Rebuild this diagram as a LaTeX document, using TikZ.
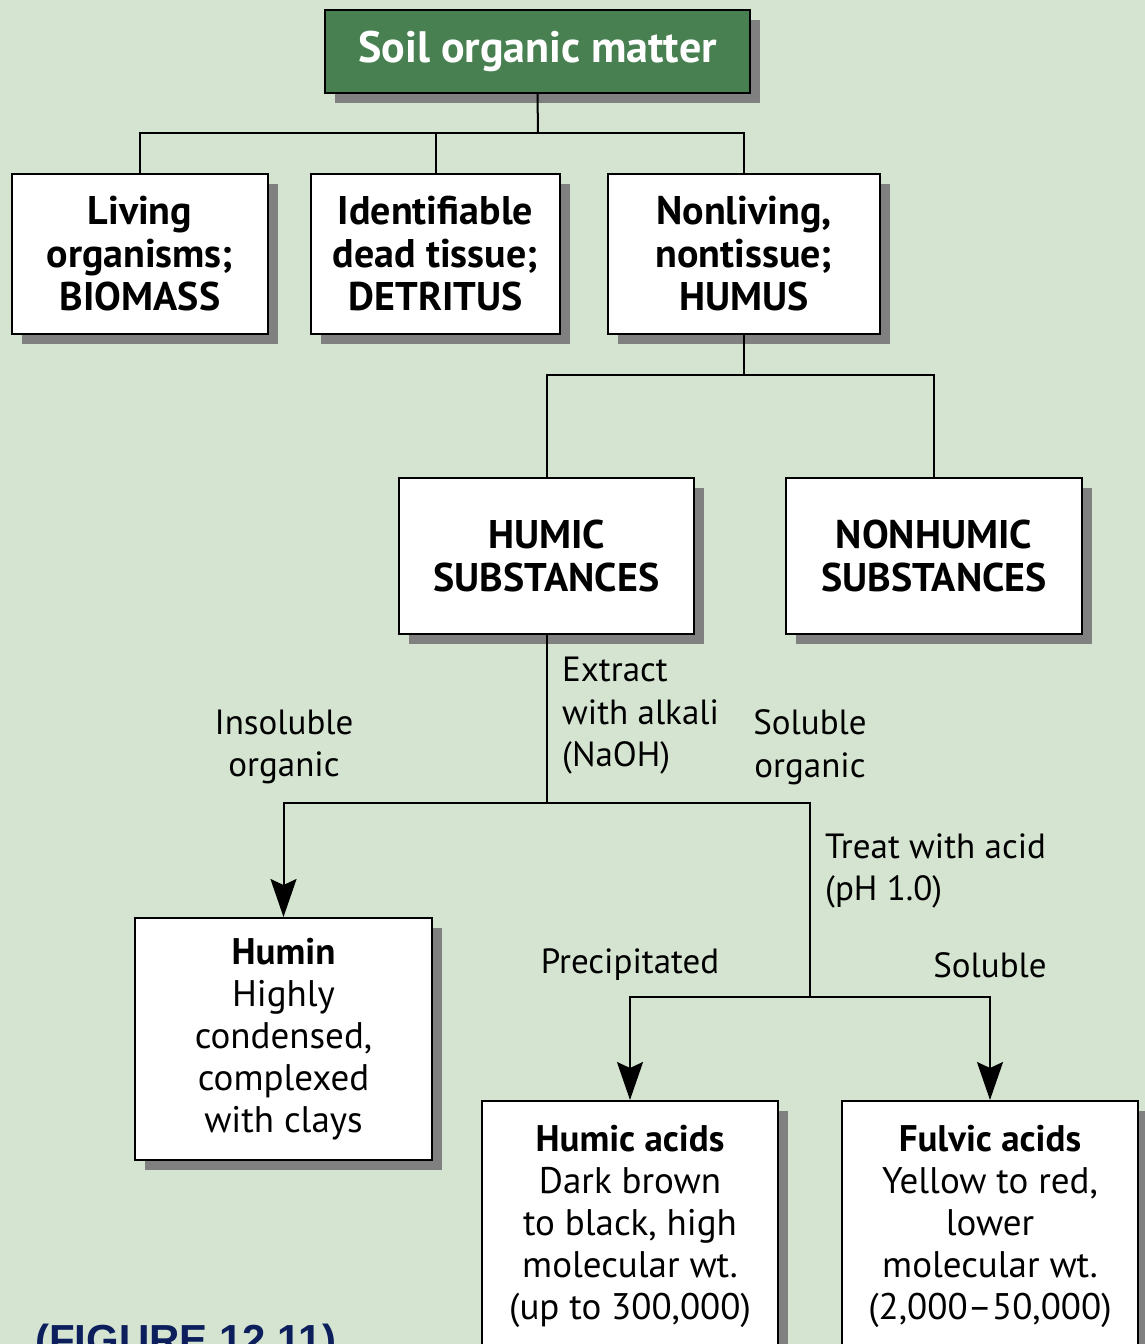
\documentclass[tikz,border=0pt]{standalone}
\usepackage{fontspec}
\setmainfont{PT Sans}
\newfontfamily\figfont{Liberation Sans}
\usetikzlibrary{arrows.meta,shadows}
\definecolor{bg}{RGB}{213,228,209}
\definecolor{boxgreen}{RGB}{72,128,82}
\definecolor{shadowgray}{RGB}{128,128,128}
\definecolor{navy}{RGB}{12,30,92}
\begin{document}
\begin{tikzpicture}[x=1pt,y=-1pt,
  box/.style={draw=black,line width=2pt,fill=white,inner sep=0pt,align=center,
    font=\fontsize{40}{43}\selectfont\bfseries,
    drop shadow={shadow xshift=10pt,shadow yshift=-10pt,fill=shadowgray,opacity=1}},
  bodybox/.style={box,font=\fontsize{37}{42}\selectfont},
  lbl/.style={inner sep=0pt,font=\fontsize{35}{42.5}\selectfont},
  conn/.style={line width=2pt},
  arr/.style={conn,-{Stealth[length=38pt,width=26pt,inset=6pt]}}
]
\fill[bg] (0,0) rectangle (1145,1344);
\useasboundingbox (0,0) rectangle (1145,1344);
\clip (0,0) rectangle (1145,1344);

% boxes
\node[box,fill=boxgreen,text=white,minimum width=425pt,minimum height=83pt,
      font=\fontsize{44}{44}\selectfont\bfseries] (som) at (537.5,51.5) {Soil organic matter};
\node[box,minimum width=256pt,minimum height=160pt] (bio) at (140,254) {Living\\organisms;\\BIOMASS};
\node[box,minimum width=249pt,minimum height=160pt] (det) at (435.5,254) {Identifiable\\dead tissue;\\DETRITUS};
\node[box,minimum width=272pt,minimum height=160pt] (hum) at (744,254) {Nonliving,\\nontissue;\\HUMUS};
\node[box,minimum width=295pt,minimum height=156pt] (humic) at (546.5,556) {HUMIC\\SUBSTANCES};
\node[box,minimum width=296pt,minimum height=156pt] (nonhumic) at (934,556) {NONHUMIC\\SUBSTANCES};
\node[bodybox,minimum width=297pt,minimum height=242pt] (humin) at (283.5,1039)
  {\textbf{Humin}\\Highly\\condensed,\\complexed\\with clays};
\node[bodybox,minimum width=296pt,minimum height=250pt] (ha) at (630,1226)
  {\textbf{Humic acids}\\Dark brown\\to black, high\\molecular wt.\\(up to 300,000)};
\node[bodybox,minimum width=296pt,minimum height=250pt] (fa) at (990,1226)
  {\textbf{Fulvic acids}\\Yellow to red,\\lower\\molecular wt.\\(2,000--50,000)};

% labels
\node[lbl,align=left,anchor=west] (ext) at (562,716) {Extract\\with alkali\\(NaOH)};
\node[lbl,align=center] (insol) at (284,747) {Insoluble\\organic};
\node[lbl,align=center] (sol) at (810,747) {Soluble\\organic};
\node[lbl,align=left,anchor=west] (treat) at (825,871) {Treat with acid\\(pH 1.0)};
\node[lbl] (prec) at (630,965) {Precipitated};
\node[lbl] (sol2) at (990,965) {Soluble};
\node[inner sep=0pt,anchor=base west,text=navy,font=\figfont\bfseries\fontsize{42}{42}\selectfont]
  (fig) at (35,1354) {(FIGURE 12.11)};

% connectors
\coordinate (j1) at (538,133);
\coordinate (j2) at (746,375);
\coordinate (j3) at (548,803);
\coordinate (j5) at (810,997);
\draw[conn] (som.south) -- (j1);
\draw[conn] (bio.north) -- (bio.north |- j1) -- (hum.north |- j1) -- (hum.north);
\draw[conn] (det.north) -- (det.north |- j1);
\draw[conn] (hum.south) -- (hum.south |- j2);
\draw[conn] (humic.north) -- (humic.north |- j2) -- (nonhumic.north |- j2) -- (nonhumic.north);
\draw[conn] (humic.south) -- (humic.south |- j3);
\draw[arr] (j5) -- (j5 |- j3) -- (humin.north |- j3) -- (humin.north);
\draw[arr] (j5) -| (ha.north);
\draw[arr] (j5) -| (fa.north);
\end{tikzpicture}
\end{document}
